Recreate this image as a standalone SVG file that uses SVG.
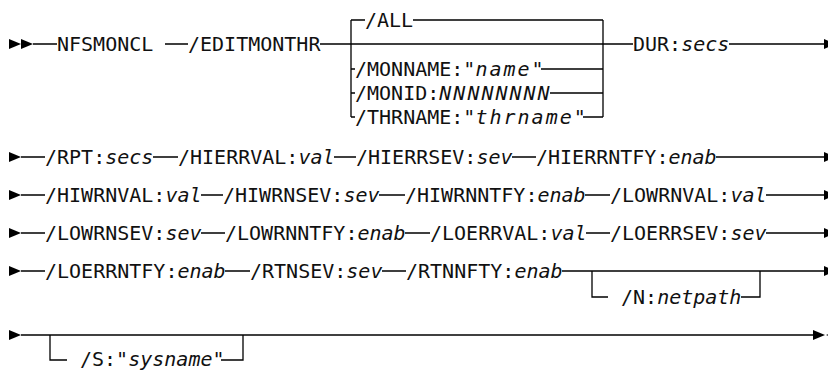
<svg xmlns="http://www.w3.org/2000/svg" width="828" height="371" viewBox="0 0 828 371">
<style>
.t{font-family:"DejaVu Sans Mono","Liberation Mono",monospace;font-size:20px;fill:#111}
.i{font-style:italic}
.w{letter-spacing:2px}
.c{stroke:#000;stroke-width:1.3;fill:none}
.a{fill:#000}
</style>
<defs>
<path id="ar" d="M0,-5 L12,0 L0,5 Z"/>
<path id="al" d="M12,-5 L0,0 L12,5 Z"/>
</defs>
<rect width="828" height="371" fill="#fff"/>
<g id="connectors">
<g class="a">
<use href="#ar" x="9" y="44"/><use href="#ar" x="21" y="44"/>
<use href="#ar" x="824" y="44"/>
<use href="#ar" x="9" y="157"/><use href="#ar" x="824" y="157"/>
<use href="#ar" x="9" y="195"/><use href="#ar" x="824" y="195"/>
<use href="#ar" x="9" y="233"/><use href="#ar" x="824" y="233"/>
<use href="#ar" x="9" y="271"/><use href="#ar" x="824" y="271"/>
<use href="#ar" x="9" y="335"/><use href="#ar" x="813" y="335"/><use href="#al" x="826" y="335"/>
</g>
<g class="c">
<path d="M33,44H57M165,44H188M320,44H633M729,44H824"/>
<path d="M351,20V117M603,20V117"/>
<path d="M351,20H365M413,20H603"/>
<path d="M351,69H355M541,69H603"/>
<path d="M351,93H355M550,93H603"/>
<path d="M351,117H355M583,117H603"/>
<path d="M21,157H45M153,157H178M334,157H356M512,157H536M716,157H824"/>
<path d="M21,195H45M201,195H223M379,195H405M585,195H610M766,195H824"/>
<path d="M21,233H45M201,233H225M405,233H430M586,233H610M766,233H824"/>
<path d="M21,271H45M225,271H250M382,271H406M562,271H824"/>
<path d="M592,271V297H608M741,297H760V271"/>
<path d="M21,335H813"/>
<path d="M50,335V360H67M221,360H243V335"/>
</g>
</g>
<g id="n-nfsmoncl"><text class="t" x="57" y="51">NFSMONCL</text></g>
<g id="n-editmonthr"><text class="t" x="188" y="51">/EDITMONTHR</text></g>
<g id="n-all"><text class="t" x="365" y="27">/ALL</text></g>
<g id="n-monname"><text class="t" x="355" y="76">/MONNAME:"<tspan class="i w">name</tspan>"</text></g>
<g id="n-monid"><text class="t" x="355" y="100">/MONID:<tspan class="i w">NNNNNNNN</tspan></text></g>
<g id="n-thrname"><text class="t" x="355" y="124">/THRNAME:"<tspan class="i w">thrname</tspan>"</text></g>
<g id="n-dur"><text class="t" x="633" y="51">DUR:<tspan class="i">secs</tspan></text></g>
<g id="n-rpt"><text class="t" x="45" y="164">/RPT:<tspan class="i">secs</tspan></text></g>
<g id="n-hierrval"><text class="t" x="178" y="164">/HIERRVAL:<tspan class="i">val</tspan></text></g>
<g id="n-hierrsev"><text class="t" x="356" y="164">/HIERRSEV:<tspan class="i">sev</tspan></text></g>
<g id="n-hierrntfy"><text class="t" x="536" y="164">/HIERRNTFY:<tspan class="i">enab</tspan></text></g>
<g id="n-hiwrnval"><text class="t" x="45" y="202">/HIWRNVAL:<tspan class="i">val</tspan></text></g>
<g id="n-hiwrnsev"><text class="t" x="223" y="202">/HIWRNSEV:<tspan class="i">sev</tspan></text></g>
<g id="n-hiwrnntfy"><text class="t" x="405" y="202">/HIWRNNTFY:<tspan class="i">enab</tspan></text></g>
<g id="n-lowrnval"><text class="t" x="610" y="202">/LOWRNVAL:<tspan class="i">val</tspan></text></g>
<g id="n-lowrnsev"><text class="t" x="45" y="240">/LOWRNSEV:<tspan class="i">sev</tspan></text></g>
<g id="n-lowrnntfy"><text class="t" x="225" y="240">/LOWRNNTFY:<tspan class="i">enab</tspan></text></g>
<g id="n-loerrval"><text class="t" x="430" y="240">/LOERRVAL:<tspan class="i">val</tspan></text></g>
<g id="n-loerrsev"><text class="t" x="610" y="240">/LOERRSEV:<tspan class="i">sev</tspan></text></g>
<g id="n-loerrntfy"><text class="t" x="45" y="278">/LOERRNTFY:<tspan class="i">enab</tspan></text></g>
<g id="n-rtnsev"><text class="t" x="250" y="278">/RTNSEV:<tspan class="i">sev</tspan></text></g>
<g id="n-rtnnfty"><text class="t" x="406" y="278">/RTNNFTY:<tspan class="i">enab</tspan></text></g>
<g id="n-netpath"><text class="t" x="621" y="304">/N:<tspan class="i">netpath</tspan></text></g>
<g id="n-sysname"><text class="t" x="80" y="366">/S:"<tspan class="i">sysname</tspan>"</text></g>
</svg>
